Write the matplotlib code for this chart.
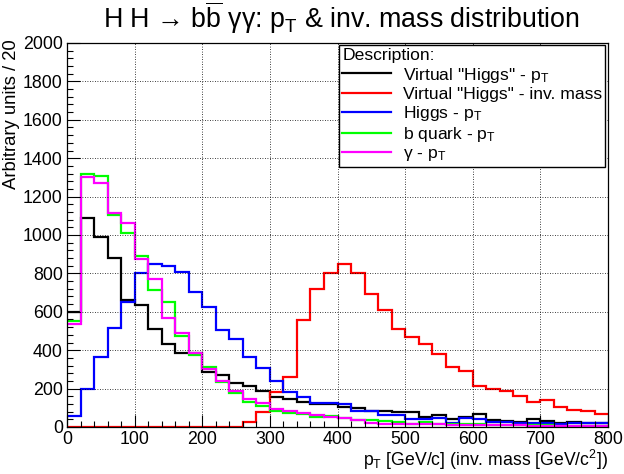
import matplotlib
matplotlib.use("Agg")
import matplotlib.pyplot as plt
import numpy as np
from matplotlib.ticker import MultipleLocator

plt.rcParams["font.family"] = ["Liberation Sans", "DejaVu Sans"]
plt.rcParams["mathtext.fontset"] = "custom"
plt.rcParams["mathtext.rm"] = "Liberation Sans"
plt.rcParams["mathtext.it"] = "Liberation Sans"
plt.rcParams["mathtext.bf"] = "Liberation Sans"

# 40 bins of 20 GeV, 0..800
bin_edges = np.arange(0, 820, 20)

virtual_pt = [600, 1087, 991, 878, 661, 635, 509, 430, 387, 385,
              288, 271, 227, 213, 189, 158, 144, 132, 120, 118,
              104, 97, 85, 85, 80, 80, 54, 62, 40, 50,
              68, 36, 33, 28, 40, 33, 23, 28, 19, 19]
virtual_mass = [0, 0, 0, 0, 0, 0, 0, 0, 0, 0,
                0, 0, 0, 28, 80, 184, 262, 557, 717, 804,
                849, 804, 691, 609, 510, 467, 432, 378, 314, 293,
                214, 196, 189, 163, 132, 141, 106, 89, 83, 66]
higgs_pt = [59, 196, 366, 517, 649, 804, 849, 839, 805, 705,
            623, 505, 457, 366, 306, 241, 184, 158, 127, 125,
            118, 82, 82, 62, 62, 40, 40, 45, 23, 49,
            40, 28, 28, 19, 19, 20, 17, 19, 19, 19]
bquark_pt = [554, 1318, 1307, 1104, 1009, 892, 714, 653, 474, 375,
             314, 234, 175, 132, 110, 85, 73, 70, 54, 58,
             45, 36, 36, 30, 25, 14, 28, 18, 16, 14,
             14, 12, 10, 10, 8, 8, 6, 6, 5, 5]
gamma_pt = [536, 1304, 1269, 1116, 1064, 873, 769, 566, 491, 384,
            303, 242, 188, 145, 125, 92, 85, 71, 62, 52,
            45, 36, 22, 18, 16, 16, 14, 14, 12, 12,
            10, 10, 8, 8, 7, 6, 6, 5, 5, 5]

series = [
    (virtual_pt, "black", 'Virtual "Higgs" - p$_{\\mathrm{T}}$'),
    (virtual_mass, "#ff0000", 'Virtual "Higgs" - inv. mass'),
    (higgs_pt, "#0000ff", "Higgs - p$_{\\mathrm{T}}$"),
    (bquark_pt, "#00ff00", "b quark - p$_{\\mathrm{T}}$"),
    (gamma_pt, "#ff00ff", "\u03b3 - p$_{\\mathrm{T}}$"),
]


def main():
    fig = plt.figure(figsize=(6.24, 4.74), dpi=100)
    ax = fig.add_axes([0.1074, 0.0992, 0.8670, 0.8101])

    for vals, colour, label in series:
        ax.stairs(vals, bin_edges, baseline=None, color=colour, lw=1.6, label=label)

    ax.set_xlim(0, 800); ax.set_ylim(0, 2000)
    ax.xaxis.set_major_locator(MultipleLocator(100)); ax.xaxis.set_minor_locator(MultipleLocator(20))
    ax.yaxis.set_major_locator(MultipleLocator(200)); ax.yaxis.set_minor_locator(MultipleLocator(40))
    ax.tick_params(which="both", direction="in", top=False, right=False, labelsize=12.8)
    ax.tick_params(axis="x", pad=3); ax.tick_params(axis="y", pad=3)
    ax.tick_params(which="major", length=9, width=0.8)
    ax.tick_params(which="minor", length=4.5, width=0.8)
    ax.grid(True, which="major", color="black", ls=(0, (1, 2)), lw=0.6)
    for s in ax.spines.values():
        s.set_linewidth(0.9)

    ax.set_xlabel("p$_{\\mathrm{T}}$ [GeV/c] (inv. mass [GeV/c$^{2}$])", fontsize=12.7, loc="right", labelpad=0)
    ax.set_ylabel("Arbitrary units / 20", fontsize=13.3, loc="top")
    ax.yaxis.set_label_coords(-0.086, 1.01, transform=ax.transAxes)
    fig.text(0.547, 0.962, "H H \u2192 b$\\overline{\\mathrm{b}}$ \u03b3\u03b3: p$_{\\mathrm{T}}$ & inv. mass distribution",
             ha="center", va="center", fontsize=19.3)

    leg = ax.legend(loc="upper right", bbox_to_anchor=(0.995, 0.995), title="Description:",
                    fontsize=12.6, title_fontsize=12.6, frameon=True, fancybox=False,
                    borderpad=0.2, labelspacing=0.12, handlelength=2.8, handletextpad=0.65,
                    borderaxespad=0, alignment="left")
    leg.get_frame().set_edgecolor("black"); leg.get_frame().set_linewidth(1.0)
    leg.get_frame().set_alpha(1)

    fig.savefig("out.png", dpi=100)
    plt.close(fig)


if __name__ == "__main__":
    main()
